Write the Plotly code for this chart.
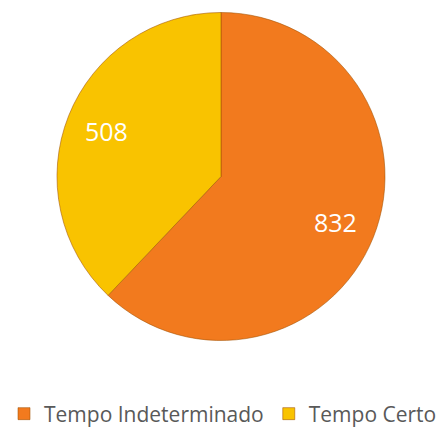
import math
import plotly.graph_objects as go

categories = ["Tempo Indeterminado", "Tempo Certo"]
values = [832, 508]
colors = ["#F27A1E", "#F9C300"]

W, H = 446, 432
# pie placement (pixels)
left, right, top, bottom = 57, 385, 12, 341
dom_x = [left / W, right / W]
dom_y = [(H - bottom) / H, (H - top) / H]

fig = go.Figure(go.Pie(
    labels=categories,
    values=values,
    sort=False,
    direction="clockwise",
    rotation=0,
    marker=dict(colors=colors, line=dict(color="rgba(160,80,0,0.55)", width=1)),
    textinfo="none",
    domain=dict(x=dom_x, y=dom_y),
    showlegend=True,
    hoverinfo="label+value",
))

# value labels placed at slice mid-angles, derived from the data
cx = (left + right) / 2
cy = (top + bottom) / 2
R = (right - left) / 2
total = sum(values)
start = 0.0
for v in values:
    mid = (start + v / 2) / total * 2 * math.pi
    start += v
    px = cx + 0.75 * R * math.sin(mid)
    py = cy - 0.75 * R * math.cos(mid)
    fig.add_annotation(
        x=px / W, y=(H - py) / H, xref="paper", yref="paper",
        text=str(v), showarrow=False,
        font=dict(family="Open Sans", size=25, color="white"),
        xanchor="center", yanchor="middle",
    )

fig.update_layout(
    width=W, height=H,
    margin=dict(l=0, r=0, t=0, b=0, autoexpand=False),
    paper_bgcolor="white",
    plot_bgcolor="white",
    legend=dict(
        orientation="h",
        x=0.5, xanchor="center",
        y=(H - 414) / H, yanchor="middle",
        font=dict(family="Open Sans", size=21, color="#595959"),
    ),
)

fig.write_html("out.html", config={"displayModeBar": False},
               post_script="document.body.style.margin='0';")
